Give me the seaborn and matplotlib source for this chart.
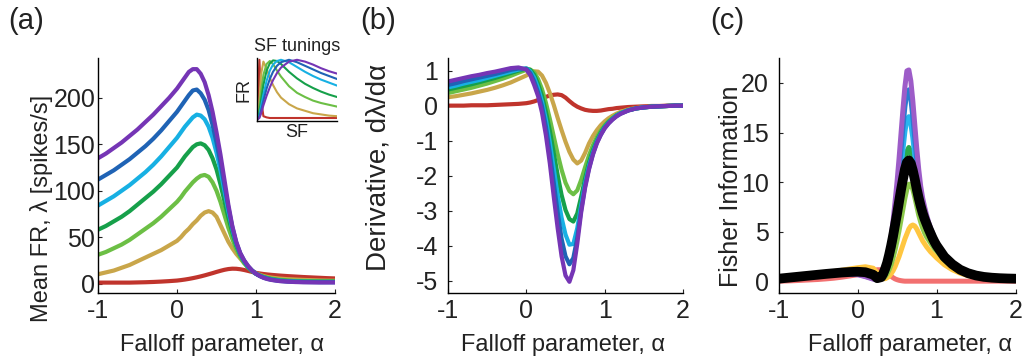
import numpy as np
import pandas as pd
import matplotlib
matplotlib.use("Agg")
import matplotlib.pyplot as plt
import seaborn as sns

# ---------------- data ----------------
curve_names = ["red", "tan", "lgreen", "green", "cyan", "blue", "purple"]

# shared alpha grid for panels (a) and (b)
xa = [-1, -0.9, -0.8, -0.7, -0.6, -0.5, -0.4, -0.3, -0.2, -0.1, 0,
      0.05, 0.1, 0.15, 0.2, 0.25, 0.3, 0.35, 0.4, 0.45, 0.5, 0.55, 0.6, 0.65, 0.7, 0.75, 0.8,
      0.85, 0.9, 0.95, 1.0, 1.05, 1.1, 1.15, 1.2,
      1.3, 1.4, 1.5, 1.6, 1.7, 1.8, 1.9, 2.0]

# (a) mean firing rate
fr_red = [1, 1, 1, 1, 1, 1.2, 1.4, 1.7, 2.1, 2.6, 3.2,
          3.7, 4.3, 5, 5.8, 6.7, 7.7, 8.8, 10, 11.2, 12.5, 13.7, 14.8, 15.6, 16, 15.9, 15.4,
          14.6, 13.6, 12.5, 11.5, 10.8, 10.2, 9.7, 9.3,
          8.6, 8, 7.5, 7, 6.6, 6.2, 5.8, 5.5]
fr_tan = [10, 12, 14, 17, 20, 24, 28, 32, 36, 41, 46,
          50, 55, 59, 64, 68, 73, 76.5, 78, 76.5, 72, 63, 54, 45, 38, 32, 27,
          22, 18, 14, 11, 9.3, 8, 7, 6.3,
          5.3, 4.7, 4.3, 3.9, 3.6, 3.3, 3.1, 3.0]
fr_lgreen = [31, 34, 38, 42, 47, 53, 59, 65, 72, 80, 88,
             93, 99, 104, 109, 113, 116, 117, 115, 109, 100, 88, 74, 60, 48, 37, 28.5,
             22, 17, 13.5, 10.5, 8.7, 7.2, 6.1, 5.2,
             4.0, 3.3, 2.9, 2.7, 2.6, 2.5, 2.4, 2.4]
fr_green = [58, 62, 67, 72, 78, 85, 92, 99, 107, 116, 125,
            131, 137, 142, 147, 150, 151, 149, 144, 135, 123, 107, 89, 71, 55, 41, 31,
            23.5, 17.5, 13.5, 10.5, 8.4, 6.8, 5.6, 4.7,
            3.5, 2.9, 2.5, 2.3, 2.1, 2.0, 2.0, 2.0]
fr_cyan = [84, 89, 94, 100, 106, 113, 120, 128, 137, 147, 157,
           163, 169, 174, 179, 182, 181, 177, 169, 157, 141, 122, 100, 78, 59, 43, 32,
           24, 18, 14, 10.5, 8.2, 6.5, 5.2, 4.3,
           3.1, 2.5, 2.1, 1.9, 1.8, 1.7, 1.7, 1.7]
fr_blue = [112, 117, 122, 128, 134, 141, 148, 156, 165, 175, 185,
           191, 197, 203, 208, 209, 205, 198, 187, 171, 152, 130, 106, 82, 61, 44, 32.5,
           24.5, 18.5, 14, 10.5, 8, 6.2, 5, 4,
           2.8, 2.2, 1.8, 1.6, 1.5, 1.4, 1.4, 1.4]
fr_purple = [135, 140, 146, 152, 159, 166, 174, 182, 191, 200, 210,
             216, 222, 228, 231, 231, 226, 217, 203, 185, 163, 139, 112, 85, 62, 45, 33,
             25, 19, 14, 10.5, 8, 6, 4.7, 3.8,
             2.6, 2, 1.6, 1.4, 1.3, 1.2, 1.2, 1.2]

# (b) derivative d(lambda)/d(alpha)
d_red = [0, 0, 0, 0.01, 0.01, 0.01, 0.02, 0.03, 0.04, 0.05, 0.07,
         0.09, 0.12, 0.16, 0.2, 0.25, 0.29, 0.31, 0.32, 0.3, 0.23, 0.13, 0.04, -0.03, -0.08, -0.12, -0.14,
         -0.15, -0.15, -0.14, -0.12, -0.1, -0.09, -0.07, -0.06,
         -0.04, -0.03, -0.02, -0.01, -0.01, 0, 0, 0]
d_tan = [0.24, 0.27, 0.31, 0.35, 0.40, 0.45, 0.51, 0.58, 0.66, 0.76, 0.86,
         0.93, 0.98, 0.97, 0.86, 0.65, 0.36, 0.02, -0.35, -0.7, -1.03, -1.32, -1.54, -1.65, -1.57, -1.35, -1.08,
         -0.87, -0.7, -0.56, -0.45, -0.36, -0.29, -0.23, -0.18,
         -0.11, -0.07, -0.04, -0.03, -0.02, -0.01, 0, 0]
d_lgreen = [0.36, 0.41, 0.46, 0.51, 0.57, 0.63, 0.70, 0.77, 0.85, 0.94, 1.02,
            1.03, 0.95, 0.76, 0.47, 0.08, -0.38, -0.88, -1.38, -1.83, -2.2, -2.44, -2.53, -2.42, -2.12, -1.76, -1.42,
            -1.13, -0.9, -0.71, -0.56, -0.44, -0.35, -0.27, -0.21,
            -0.13, -0.08, -0.05, -0.03, -0.02, -0.01, 0, 0]
d_green = [0.46, 0.51, 0.56, 0.61, 0.67, 0.73, 0.79, 0.86, 0.93, 1.0, 1.06,
           1.02, 0.88, 0.62, 0.28, -0.18, -0.72, -1.35, -1.98, -2.55, -2.98, -3.24, -3.31, -3.08, -2.6, -2.08, -1.62,
           -1.27, -0.99, -0.77, -0.6, -0.47, -0.37, -0.28, -0.22,
           -0.13, -0.08, -0.05, -0.03, -0.02, -0.01, 0, 0]
d_cyan = [0.52, 0.57, 0.63, 0.68, 0.73, 0.79, 0.85, 0.91, 0.97, 1.03, 1.06,
          0.98, 0.8, 0.5, 0.12, -0.4, -1.05, -1.8, -2.55, -3.2, -3.68, -3.97, -3.95, -3.5, -2.85, -2.22, -1.72,
          -1.34, -1.03, -0.81, -0.62, -0.49, -0.38, -0.29, -0.22,
          -0.13, -0.08, -0.05, -0.03, -0.02, -0.01, 0, 0]
d_blue = [0.59, 0.64, 0.70, 0.75, 0.80, 0.85, 0.90, 0.96, 1.02, 1.06, 1.05,
          0.93, 0.7, 0.38, -0.02, -0.6, -1.35, -2.2, -3.05, -3.8, -4.3, -4.53, -4.35, -3.78, -2.98, -2.3, -1.79,
          -1.38, -1.06, -0.83, -0.64, -0.5, -0.39, -0.3, -0.23,
          -0.14, -0.08, -0.05, -0.03, -0.02, -0.01, 0, 0]
d_purple = [0.69, 0.74, 0.79, 0.84, 0.88, 0.93, 0.97, 1.02, 1.07, 1.09, 1.03,
            0.87, 0.59, 0.27, -0.2, -0.85, -1.65, -2.6, -3.5, -4.3, -4.85, -5.03, -4.7, -3.95, -3.05, -2.35, -1.82,
            -1.4, -1.08, -0.84, -0.65, -0.51, -0.4, -0.31, -0.24,
            -0.14, -0.08, -0.05, -0.03, -0.02, -0.01, 0, 0]

# (c) Fisher information
xc = [-1, -0.9, -0.8, -0.7, -0.6, -0.5, -0.4, -0.3, -0.2, -0.1, 0, 0.1, 0.2,
      0.25,
      0.3, 0.325, 0.35, 0.375, 0.4, 0.425, 0.45, 0.475, 0.5, 0.525, 0.55, 0.575, 0.6, 0.625, 0.65,
      0.675, 0.7, 0.725, 0.75, 0.775, 0.8, 0.825, 0.85, 0.875, 0.9, 0.925, 0.95, 0.975, 1.0,
      1.1, 1.2, 1.3, 1.4, 1.5, 1.6, 1.7, 1.8, 1.9, 2.0]
f_red = [0.05, 0.07, 0.1, 0.14, 0.18, 0.22, 0.28, 0.35, 0.45, 0.57, 0.7, 0.9, 1.1,
         1.2,
         1.2, 1.12, 1.0, 0.85, 0.7, 0.55, 0.4, 0.28, 0.2, 0.14, 0.1, 0.07, 0.05, 0.05, 0.05,
         0.05, 0.05, 0.05, 0.05, 0.05, 0.05, 0.05, 0.05, 0.05, 0.05, 0.05, 0.05, 0.05, 0.05,
         0.05, 0.05, 0.05, 0.05, 0.05, 0.05, 0.05, 0.05, 0.05, 0.05]
f_yellow = [0.3, 0.39, 0.48, 0.58, 0.68, 0.78, 0.9, 1.02, 1.15, 1.28, 1.4, 1.5, 1.35,
            0.9,
            0.45, 0.3, 0.3, 0.4, 0.55, 0.8, 1.1, 1.5, 2.0, 2.5, 3.1, 3.7, 4.3, 4.8, 5.3,
            5.6, 5.7, 5.6, 5.3, 4.9, 4.5, 4.1, 3.8, 3.5, 3.25, 3.0, 2.8, 2.6, 2.4,
            1.7, 1.2, 0.85, 0.6, 0.45, 0.35, 0.3, 0.25, 0.2, 0.2]
f_lgreen = [0.3, 0.38, 0.46, 0.54, 0.62, 0.7, 0.79, 0.88, 0.97, 1.05, 1.1, 1.0, 0.7,
            0.45,
            0.3, 0.35, 0.5, 0.8, 1.2, 1.7, 2.4, 3.2, 4.1, 5.1, 6.2, 7.3, 8.4, 9.3, 9.8,
            9.8, 9.3, 8.5, 7.6, 6.7, 6.0, 5.4, 4.9, 4.5, 4.2, 3.9, 3.6, 3.3, 3.1,
            2.15, 1.5, 1.05, 0.75, 0.55, 0.42, 0.33, 0.28, 0.25, 0.25]
f_green = [0.3, 0.37, 0.44, 0.51, 0.58, 0.65, 0.72, 0.79, 0.85, 0.9, 0.9, 0.75, 0.45,
           0.28,
           0.35, 0.5, 0.75, 1.2, 1.8, 2.6, 3.5, 4.6, 5.9, 7.3, 8.9, 10.5, 12.0, 13.1, 13.5,
           13.1, 12.1, 10.8, 9.4, 8.1, 7.1, 6.4, 5.8, 5.3, 4.9, 4.5, 4.1, 3.8, 3.5,
           2.35, 1.65, 1.15, 0.8, 0.6, 0.45, 0.35, 0.3, 0.25, 0.25]
f_cyan = [0.3, 0.36, 0.42, 0.48, 0.55, 0.62, 0.68, 0.74, 0.78, 0.8, 0.8, 0.62, 0.35,
          0.22,
          0.4, 0.6, 1.0, 1.6, 2.4, 3.4, 4.6, 6.0, 7.6, 9.4, 11.3, 13.3, 15.1, 16.3, 16.6,
          15.9, 14.5, 12.7, 10.9, 9.3, 8.1, 7.2, 6.5, 5.9, 5.4, 4.9, 4.5, 4.1, 3.7,
          2.45, 1.7, 1.15, 0.82, 0.6, 0.45, 0.35, 0.3, 0.25, 0.25]
f_blue = [0.3, 0.36, 0.42, 0.48, 0.54, 0.6, 0.66, 0.72, 0.76, 0.77, 0.75, 0.55, 0.3,
          0.2,
          0.4, 0.65, 1.1, 1.8, 2.8, 4.0, 5.4, 7.1, 9.0, 11.0, 13.2, 15.5, 17.6, 19.0, 19.3,
          18.4, 16.6, 14.4, 12.3, 10.4, 8.9, 7.9, 7.1, 6.4, 5.8, 5.2, 4.7, 4.3, 3.9,
          2.5, 1.75, 1.2, 0.85, 0.6, 0.45, 0.35, 0.3, 0.25, 0.25]
f_purple = [0.3, 0.36, 0.42, 0.48, 0.54, 0.6, 0.66, 0.72, 0.75, 0.75, 0.7, 0.5, 0.25,
            0.2,
            0.4, 0.7, 1.2, 2.0, 3.1, 4.5, 6.1, 8.0, 10.0, 12.3, 14.8, 17.3, 19.6, 21.2, 21.3,
            20.2, 18.2, 15.8, 13.4, 11.3, 9.6, 8.4, 7.5, 6.7, 6.0, 5.4, 4.9, 4.4, 4.0,
            2.6, 1.8, 1.2, 0.85, 0.6, 0.45, 0.35, 0.3, 0.25, 0.25]
f_total = [0.3, 0.38, 0.46, 0.54, 0.62, 0.7, 0.78, 0.85, 0.92, 0.97, 1.0, 0.95, 0.7,
           0.35,
           0.45, 0.8, 1.3, 1.9, 2.7, 3.6, 4.6, 5.7, 6.8, 8.0, 9.2, 10.3, 11.3, 12.0, 12.2,
           11.9, 11.2, 10.3, 9.3, 8.4, 7.6, 6.9, 6.3, 5.8, 5.3, 4.85, 4.4, 4.0, 3.65,
           2.5, 1.75, 1.2, 0.85, 0.62, 0.48, 0.4, 0.35, 0.32, 0.3]

# inset: normalised SF tuning curves
sf = [0, 0.03, 0.05, 0.08, 0.12, 0.16, 0.2, 0.25, 0.3, 0.4, 0.5, 0.6, 0.7, 0.8, 0.9, 1.0]
t_red = [0, 1.0, 0.35, 0.06, 0.04, 0.03, 0.03, 0.03, 0.03, 0.03, 0.03, 0.03, 0.03, 0.03, 0.03, 0.03]
t_tan = [0, 0.3, 0.75, 0.97, 0.85, 0.7, 0.58, 0.46, 0.37, 0.26, 0.19, 0.15, 0.11, 0.09, 0.07, 0.06]
t_lgreen = [0, 0.2, 0.45, 0.75, 0.93, 0.98, 0.93, 0.82, 0.72, 0.56, 0.45, 0.38, 0.32, 0.28, 0.25, 0.22]
t_green = [0, 0.12, 0.32, 0.58, 0.82, 0.94, 0.99, 0.98, 0.93, 0.8, 0.69, 0.6, 0.53, 0.47, 0.42, 0.38]
t_cyan = [0, 0.08, 0.22, 0.42, 0.65, 0.82, 0.92, 0.98, 1.0, 0.96, 0.88, 0.8, 0.73, 0.67, 0.62, 0.57]
t_blue = [0, 0.05, 0.15, 0.32, 0.52, 0.68, 0.8, 0.9, 0.96, 1.0, 0.96, 0.9, 0.84, 0.78, 0.73, 0.68]
t_purple = [0, 0.03, 0.1, 0.24, 0.4, 0.54, 0.66, 0.78, 0.87, 0.97, 1.0, 0.97, 0.92, 0.86, 0.81, 0.77]

colors_ab = ["#c0342c", "#c9a64a", "#6cbf45", "#16a04a", "#17b0e3", "#1f63b5", "#7535b5"]
colors_c = ["#f27070", "#ffc640", "#8cc84b", "#2aaa4a", "#29b5ee", "#2a7bd0", "#9d5cc8"]


def long_df(x, series, names, xname, yname):
    rows = []
    for name, ys in zip(names, series):
        for xv, yv in zip(x, ys):
            rows.append({xname: xv, yname: yv, "curve": name})
    return pd.DataFrame(rows)


df_a = long_df(xa, [fr_red, fr_tan, fr_lgreen, fr_green, fr_cyan, fr_blue, fr_purple], curve_names, "alpha", "rate")
df_b = long_df(xa, [d_red, d_tan, d_lgreen, d_green, d_cyan, d_blue, d_purple], curve_names, "alpha", "deriv")
df_c = long_df(xc, [f_red, f_yellow, f_lgreen, f_green, f_cyan, f_blue, f_purple], curve_names, "alpha", "fisher")
df_t = pd.DataFrame({"alpha": xc, "fisher": f_total})
df_i = long_df(sf, [t_red, t_tan, t_lgreen, t_green, t_cyan, t_blue, t_purple], curve_names, "sf", "fr")

# ---------------- style ----------------
sns.set_theme(style="ticks")
plt.rcParams["font.family"] = ["Liberation Sans", "DejaVu Sans"]
for k in ("text.color", "axes.labelcolor", "xtick.color", "ytick.color"):
    plt.rcParams[k] = "#222222"

W, H = 1022, 357
fig = plt.figure(figsize=(W / 100, H / 100), dpi=100)


def px_axes(left, top, right, bottom):
    return fig.add_axes([left / W, 1 - bottom / H, (right - left) / W, (bottom - top) / H])


axA = px_axes(98, 58, 335, 293)
axB = px_axes(448, 58, 683, 293)
axC = px_axes(778.5, 58, 1015.5, 293)
axI = px_axes(257, 58, 337, 121)

pal_ab = dict(zip(curve_names, colors_ab))
pal_c = dict(zip(curve_names, colors_c))

line_kw = dict(estimator=None, legend=False, solid_capstyle="round", solid_joinstyle="round")
sns.lineplot(data=df_a, x="alpha", y="rate", hue="curve", hue_order=curve_names, palette=pal_ab,
             linewidth=3.0, ax=axA, **line_kw)
sns.lineplot(data=df_b, x="alpha", y="deriv", hue="curve", hue_order=curve_names, palette=pal_ab,
             linewidth=3.0, ax=axB, **line_kw)
sns.lineplot(data=df_c, x="alpha", y="fisher", hue="curve", hue_order=curve_names, palette=pal_c,
             linewidth=3.6, ax=axC, **line_kw)
sns.lineplot(data=df_t, x="alpha", y="fisher", color="black", linewidth=7,
             ax=axC, estimator=None, solid_capstyle="round", solid_joinstyle="round")
sns.lineplot(data=df_i, x="sf", y="fr", hue="curve", hue_order=curve_names, palette=pal_ab,
             linewidth=1.5, ax=axI, estimator=None, legend=False)

for ax in (axA, axB, axC, axI):
    sns.despine(ax=ax)
    for s in ("left", "bottom"):
        ax.spines[s].set_color("black")
        ax.spines[s].set_linewidth(1.0)

for ax in (axA, axB, axC):
    ax.set_xlim(-1, 2)
    ax.set_xticks([-1, 0, 1, 2])
    ax.set_xticklabels(["-1", "0", "1", "2"])
    ax.tick_params(axis="both", direction="in", length=3, width=0.8, labelsize=18)
    ax.tick_params(axis="x", pad=4)

axA.set_ylim(-10.2, 243)
axA.set_yticks([0, 50, 100, 150, 200])
axA.tick_params(axis="y", pad=2)
axB.set_ylim(-5.35, 1.36)
axB.set_yticks([1, 0, -1, -2, -3, -4, -5])
axB.set_yticklabels(["1", "0", "-1", "-2", "-3", "-4", "-5"])
axB.tick_params(axis="y", pad=7)
axC.set_ylim(-1.14, 22.5)
axC.set_yticks([0, 5, 10, 15, 20])
axC.tick_params(axis="y", pad=7)

xl = "Falloff parameter, \u03b1"
for ax, cx in ((axA, 0.525), (axB, 0.49), (axC, 0.555)):
    ax.set_xlabel(xl, fontsize=17)
    ax.xaxis.set_label_coords(cx, -0.175)

axA.set_ylabel("Mean FR, \u03bb [spikes/s]", fontsize=17)
axA.yaxis.set_label_coords(-0.19, 0.36)
axB.set_ylabel("Derivative, d\u03bb/d\u03b1", fontsize=20)
axB.yaxis.set_label_coords(-0.24, 0.535)
axC.set_ylabel("Fisher Information", fontsize=18)
axC.yaxis.set_label_coords(-0.15, 0.455)

axI.set_xlim(0, 1)
axI.set_ylim(-0.02, 1.03)
axI.set_xticks([])
axI.set_yticks([])
axI.set_xlabel("SF", fontsize=13, labelpad=2)
axI.set_ylabel("FR", fontsize=13, labelpad=3)
axI.set_title("SF tunings", fontsize=13, pad=5)
axI.patch.set_alpha(0)

for label, xpx in (("(a)", 8), ("(b)", 360), ("(c)", 710)):
    fig.text(xpx / W, 1 - 21 / H, label, fontsize=21, va="center", ha="left")

fig.savefig("out.png", dpi=100)
